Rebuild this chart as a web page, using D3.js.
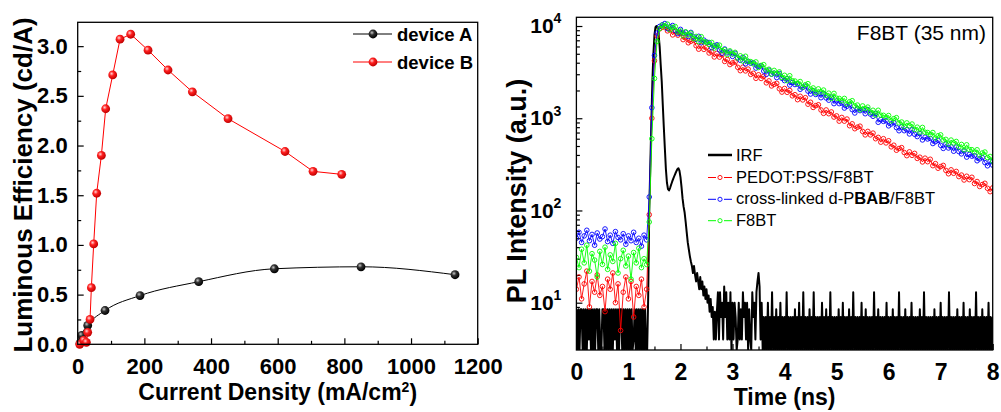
<!DOCTYPE html>
<html>
<head>
<meta charset="utf-8">
<script src="https://cdn.jsdelivr.net/npm/d3@7"></script>
<style>
  body { margin: 0; background: #fff; }
  svg { display: block; font-family: "Liberation Sans", Arial, sans-serif; }
  .tick line { stroke: #000; stroke-width: 1.2; }
  .domain { display: none; }
</style>
</head>
<body>
<div id="chart"></div>
<script>
// left panel: [current density, efficiency]
const devA = [[7,0.01],[12,0.09],[30,0.19],[82,0.34],[187,0.49],[363,0.63],[590,0.76],[850,0.78],[1132,0.70]];
const devB = [[6,0.0],[18,0.04],[26,0.02],[30,0.12],[37,0.25],[41,0.57],[48,1.01],[57,1.52],[71,1.90],[84,2.37],[105,2.71],[127,3.07],[159,3.12],[211,2.96],[271,2.76],[344,2.54],[451,2.27],[622,1.94],[706,1.74],[792,1.71]];
const xTicksL = [0,200,400,600,800,1000,1200];
const yTicksL = [0.0,0.5,1.0,1.5,2.0,2.5,3.0];

// right panel: PL decays sampled every 0.05 ns from 0 to 8 ns
const tStep = 0.05;
const pedot = [14,19,11,16,22,9,17,13,20,12,15,8,18,14,21,10,16,5,13,19,11,17,7,15,12,18,9,14,
  90,1000,4200,7800,9300,9700,
  9740,8860,9090,8010,8730,7950,8380,7120,7460,6580,
  6830,6990,6120,5610,6120,5580,5820,5100,5240,4620,
  5050,4600,4860,4130,4330,3820,3980,4070,3570,3280,
  3580,3260,3410,2990,3070,2710,2960,2700,2850,2420,
  2540,2240,2330,2390,2090,1920,2100,1910,2000,1750,
  1800,1590,1730,1580,1670,1420,1490,1310,1370,1400,
  1230,1130,1230,1120,1170,1030,1060,930,1020,930,
  980,830,870,770,800,820,720,660,720,660,
  690,600,620,550,600,540,570,490,510,450,
  470,480,425,393,432,396,416,367,378,336,
  369,338,359,306,322,287,299,308,272,250,
  276,253,265,233,242,214,235,216,229,196,
  206,182,191,197,174,160,176];
const pbab = [50,58,45,53,61,47,55,42,57,49,52,63,46,54,44,59,51,48,56,43,53,47,58,45,50,41,54,48,
  140,1300,4800,8400,9900,10300,
  10640,9370,9810,10130,8950,8270,9190,8360,8560,7690,
  8520,7610,7190,7730,6590,7030,6690,6630,5820,6080,
  6260,5510,5080,5630,5110,5220,4680,5060,4510,4250,
  4560,3890,4140,3950,3990,3500,3660,3690,3250,2990,
  3320,3010,3080,2760,3050,2710,2560,2680,2290,2440,
  2320,2350,2060,2160,2230,1970,1830,1990,1810,1850,
  1670,1850,1660,1570,1690,1440,1540,1440,1460,1290,
  1350,1400,1240,1140,1270,1210,1240,1120,1240,1110,
  1050,1130,904,967,925,938,827,867,896,792,
  732,806,733,751,676,749,670,633,681,582,
  623,596,604,532,557,576,509,471,524,476,
  489,439,487,435,411,442,379,405,388,392,
  346,363,375,331,305,341,310];
const f8bt = [31,24,38,27,42,22,34,29,19,36,26,40,23,33,28,44,21,30,37,25,32,18,35,27,39,24,30,26,
  75,600,2700,6800,9400,10200,
  9930,10470,9130,9650,9870,8630,8840,7850,8640,8020,
  8360,7300,7710,6780,7660,6750,6690,6310,6640,5770,
  6090,6200,5410,5530,4900,5380,4970,5180,4510,4750,
  4170,4700,4150,4110,3880,4080,3550,3740,3810,3320,
  3400,3010,3300,3060,3180,2770,2920,2560,2890,2550,
  2530,2380,2500,2180,2310,2370,2070,2130,1890,2080,
  1930,2020,1770,1870,1640,1860,1650,1640,1550,1640,
  1430,1510,1550,1360,1390,1240,1360,1270,1320,1160,
  1220,1080,1220,1080,1075,1020,1070,940,990,1015,
  890,910,810,890,830,865,755,800,705,795,
  705,700,665,700,610,645,660,580,590,525,
  580,540,560,490,520,455,515,458,456,430,
  455,397,420,430,375,385,342];

// IRF sampled every 0.02 ns; digit strings index into irfLevels
const irfStep = 0.02;
const irfLevels = [0,4,7,8.5,10,13,15,17,21];
const irfBase = "3030330303" + "0313030303" + "3030033030" + "3030303130" + "3033030303" + "0303013030" + "30303030"; // from 0 ns
const irfPeak = [0,12,100,300,900,2500,5000,8000,9700,10000,9500,8000,6000,3800,2500,1400,800,470,280,200,
  170,165,175,190,205,220,235,250,265,280,287,270,230,180,135,110,95,75,58,45,
  38,32,28,25,21,25,20,17,21,17,14,19,14,17,12,15,11,14,10,12,8,11,7,9,4,8,4,8]; // from 1.36 ns
const irfTail = "5152416251" + "4150414201" + "4131524140" + "31052415" + "7861402" +
  "02040205020302040202" + "05020202030204020502" + "02030205020202040203" + "02050202020302040202" +
  "03020502020204020302" + "02020502030202020402" + "02030202050202030202" + "04020202030205020202" +
  "02030202040202020502" + "02020302020402020302" + "02050202030202040202"; // from 2.72 ns

const xTicksR = [0,1,2,3,4,5,6,7,8];
const yTicksR = [10,100,1000,10000];

const svg = d3.select("#chart").append("svg").attr("width", 1001).attr("height", 412);
const defs = svg.append("defs");

function ball(id, c0, c1, c2) {
  const g = defs.append("radialGradient").attr("id", id).attr("cx", "38%").attr("cy", "35%").attr("r", "65%");
  g.append("stop").attr("offset", 0).attr("stop-color", c0);
  g.append("stop").attr("offset", 0.4).attr("stop-color", c1);
  g.append("stop").attr("offset", 1).attr("stop-color", c2);
}
ball("gBlack", "#c8c8c8", "#303030", "#000");
ball("gRed", "#ffd6d6", "#ff2020", "#c00000");

function styleAxis(sel, size) {
  sel.attr("font-family", "'Liberation Sans', Arial, sans-serif").attr("font-size", size).attr("font-weight", "bold");
  sel.selectAll("text").attr("fill", "#000");
}

// ---------- left panel ----------
const wL = 400, hL = 322;
const gL = svg.append("g").attr("transform", "translate(77.7,22.3)");
const xL = d3.scaleLinear().domain([0, 1200]).range([0, wL]);
const yL = d3.scaleLinear().domain([0, 3.24]).range([hL, 0]);

gL.append("g").attr("transform", `translate(0,${hL})`)
  .call(d3.axisBottom(xL).tickValues(xTicksL).tickSize(-6).tickPadding(14).tickFormat(d3.format("d")))
  .call(styleAxis, 22);
gL.append("g").attr("transform", `translate(0,${hL})`)
  .call(d3.axisBottom(xL).tickValues(d3.range(100, 1200, 200)).tickSize(-3.5).tickFormat(""));
gL.append("g")
  .call(d3.axisLeft(yL).tickValues(yTicksL).tickSize(-6).tickPadding(10).tickFormat(d3.format(".1f")))
  .call(styleAxis, 22);
gL.append("g")
  .call(d3.axisLeft(yL).tickValues(d3.range(0.25, 3.24, 0.5)).tickSize(-3.5).tickFormat(""));

gL.append("path").datum(devA)
  .attr("d", d3.line().x(d => xL(d[0])).y(d => yL(d[1])).curve(d3.curveMonotoneX))
  .attr("fill", "none").attr("stroke", "#000").attr("stroke-width", 1);
gL.append("path").datum(devB)
  .attr("d", d3.line().x(d => xL(d[0])).y(d => yL(d[1])))
  .attr("fill", "none").attr("stroke", "#ff0000").attr("stroke-width", 1);
gL.selectAll(".ma").data(devA).join("circle")
  .attr("cx", d => xL(d[0])).attr("cy", d => yL(d[1])).attr("r", 4.4).attr("fill", "url(#gBlack)");
gL.selectAll(".mb").data(devB).join("circle")
  .attr("cx", d => xL(d[0])).attr("cy", d => yL(d[1])).attr("r", 4.4).attr("fill", "url(#gRed)");

gL.append("rect").attr("width", wL).attr("height", hL)
  .attr("fill", "none").attr("stroke", "#000").attr("stroke-width", 1.3);

const legL = [["device A", "#000", "url(#gBlack)", 34], ["device B", "#ff0000", "url(#gRed)", 62]];
legL.forEach(([name, col, fill, y]) => {
  svg.append("line").attr("x1", 353).attr("x2", 392).attr("y1", y).attr("y2", y).attr("stroke", col).attr("stroke-width", 1);
  svg.append("circle").attr("cx", 373).attr("cy", y).attr("r", 4.4).attr("fill", fill);
  svg.append("text").attr("x", 397).attr("y", y + 6.5).attr("font-size", 18.5).attr("font-weight", "bold").text(name);
});

svg.append("text").attr("transform", "translate(32,185) rotate(-90)").attr("text-anchor", "middle")
  .attr("font-size", 26).attr("font-weight", "bold").text("Luminous Efficiency (cd/A)");
const xtL = svg.append("text").attr("x", 277.7).attr("y", 400).attr("text-anchor", "middle")
  .attr("font-size", 23).attr("font-weight", "bold");
xtL.append("tspan").text("Current Density (mA/cm");
xtL.append("tspan").attr("dy", "-0.55em").attr("font-size", 14).text("2");
xtL.append("tspan").attr("dy", "0.36em").text(")");

// ---------- right panel ----------
const wR = 416.3, hR = 332.7;
const gR = svg.append("g").attr("transform", "translate(576.4,17.3)");
const xR = d3.scaleLinear().domain([0, 8]).range([0, wR]);
const yR = d3.scaleLog().domain([3.07, 12430]).range([hR, 0]).clamp(true);

defs.append("clipPath").attr("id", "clipR").append("rect").attr("width", wR).attr("height", hR);

gR.append("g").attr("transform", `translate(0,${hR})`)
  .call(d3.axisBottom(xR).tickValues(xTicksR).tickSize(-6).tickPadding(14).tickFormat(d3.format("d")))
  .call(styleAxis, 23);
gR.append("g").attr("transform", `translate(0,${hR})`)
  .call(d3.axisBottom(xR).tickValues(d3.range(0.5, 8, 1)).tickSize(-3.5).tickFormat(""));

const minorR = [];
[1, 10, 100, 1000, 10000].forEach(dec => d3.range(2, 10).forEach(m => {
  const v = dec * m;
  if (v > 3.07 && v < 12430) minorR.push(v);
}));
gR.append("g")
  .call(d3.axisLeft(yR).tickValues(yTicksR).tickSize(-6).tickPadding(15).tickFormat(""))
  .call(styleAxis, 21)
  .selectAll(".tick text").each(function(d) {
    const t = d3.select(this);
    t.text("10");
    t.append("tspan").attr("dy", "-0.7em").attr("font-size", 14).text(Math.round(Math.log10(d)));
  });
gR.append("g")
  .call(d3.axisLeft(yR).tickValues(minorR).tickSize(-3.5).tickFormat(""));

const plot = gR.append("g").attr("clip-path", "url(#clipR)");

const irf = [];
irfBase.split("").forEach((c, i) => irf.push([i * irfStep, irfLevels[+c]]));
irfPeak.forEach((v, i) => irf.push([1.36 + i * irfStep, v]));
irfTail.split("").forEach((c, i) => irf.push([2.72 + i * irfStep, irfLevels[+c]]));

const lineR = d3.line().x(d => xR(d[0])).y(d => yR(Math.max(d[1], 1)));
plot.append("path").datum(irf).attr("d", lineR)
  .attr("fill", "none").attr("stroke", "#000").attr("stroke-width", 2).attr("stroke-linejoin", "round");

const decays = [[pedot, "#ff0000"], [pbab, "#0000ff"], [f8bt, "#00ff00"]];
decays.forEach(([vals, col]) => {
  const pts = vals.map((v, i) => [i * tStep, v]);
  plot.append("path").datum(pts).attr("d", lineR)
    .attr("fill", "none").attr("stroke", col).attr("stroke-width", 0.9);
  plot.append("g").selectAll("circle").data(pts).join("circle")
    .attr("cx", d => xR(d[0])).attr("cy", d => yR(d[1])).attr("r", 2.3)
    .attr("fill", "none").attr("stroke", col).attr("stroke-width", 0.9);
});

gR.append("rect").attr("width", wR).attr("height", hR)
  .attr("fill", "none").attr("stroke", "#000").attr("stroke-width", 1.3);

svg.append("text").attr("x", 986).attr("y", 40).attr("text-anchor", "end")
  .attr("font-size", 21).text("F8BT (35 nm)");

const legR = [["IRF", "#000", 155], ["PEDOT:PSS/F8BT", "#ff0000", 176.5], ["cross-linked d-P|BAB|/F8BT", "#0000ff", 198.3], ["F8BT", "#00ff00", 219.7]];
legR.forEach(([name, col, y], i) => {
  if (i === 0) {
    svg.append("line").attr("x1", 708).attr("x2", 732).attr("y1", y).attr("y2", y).attr("stroke", col).attr("stroke-width", 2.5);
  } else {
    svg.append("line").attr("x1", 708).attr("x2", 716).attr("y1", y + 1).attr("y2", y + 1).attr("stroke", col).attr("stroke-width", 1);
    svg.append("line").attr("x1", 724).attr("x2", 732).attr("y1", y + 1).attr("y2", y + 1).attr("stroke", col).attr("stroke-width", 1);
    svg.append("circle").attr("cx", 720).attr("cy", y + 1).attr("r", 2.1).attr("fill", "none").attr("stroke", col).attr("stroke-width", 0.9);
  }
  const t = svg.append("text").attr("x", 736).attr("y", y + 6).attr("font-size", 16.5);
  name.split("|").forEach((part, j) => t.append("tspan").attr("font-weight", j === 1 ? "bold" : "normal").text(part));
});

svg.append("text").attr("transform", "translate(526,191) rotate(-90)").attr("text-anchor", "middle")
  .attr("font-size", 27).attr("font-weight", "bold").text("PL Intensity (a.u.)");
svg.append("text").attr("x", 784.6).attr("y", 405).attr("text-anchor", "middle")
  .attr("font-size", 23).attr("font-weight", "bold").text("Time (ns)");
</script>
</body>
</html>
